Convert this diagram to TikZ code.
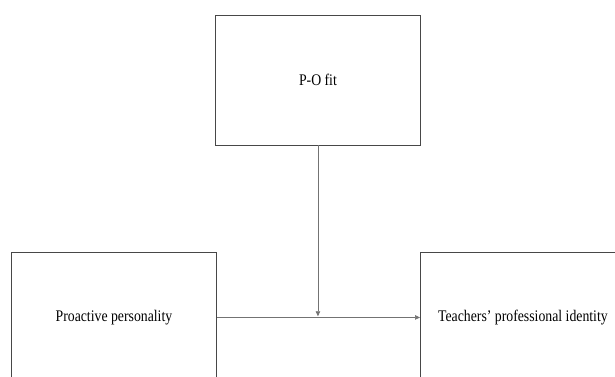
\documentclass[tikz,border=0pt]{standalone}
\usepackage{fontspec}
\setmainfont{Liberation Serif}
\usetikzlibrary{arrows.meta}
\begin{document}
\begin{tikzpicture}[x=1pt,y=-1pt,
  box/.style={draw=black!72, line width=0.9pt, minimum width=205pt, minimum height=130pt,
    anchor=north west, inner sep=0pt, font=\fontsize{16.2}{18}\selectfont},
  conn/.style={draw=black!55, line width=0.7pt, -{Triangle[length=5pt,width=4.5pt]}}]
\useasboundingbox (0,0) rectangle (615,376);
\clip (0,0) rectangle (615,376);
\fill[white] (0,0) rectangle (615,376);
\node[box] (po) at (215,14.5) {\scalebox{0.85}[1]{P-O fit}};
\node[box] (pp) at (11,252) {\scalebox{0.85}[1]{Proactive personality}};
\node[box] (tpi) at (420,252) {\scalebox{0.85}[1]{Teachers’ professional identity}};
\coordinate (m) at (po.south |- pp.east);
\draw[conn] (pp.east) -- (tpi.west);
\draw[conn, shorten >=1.2pt] (po.south) -- (m);
\end{tikzpicture}
\end{document}
